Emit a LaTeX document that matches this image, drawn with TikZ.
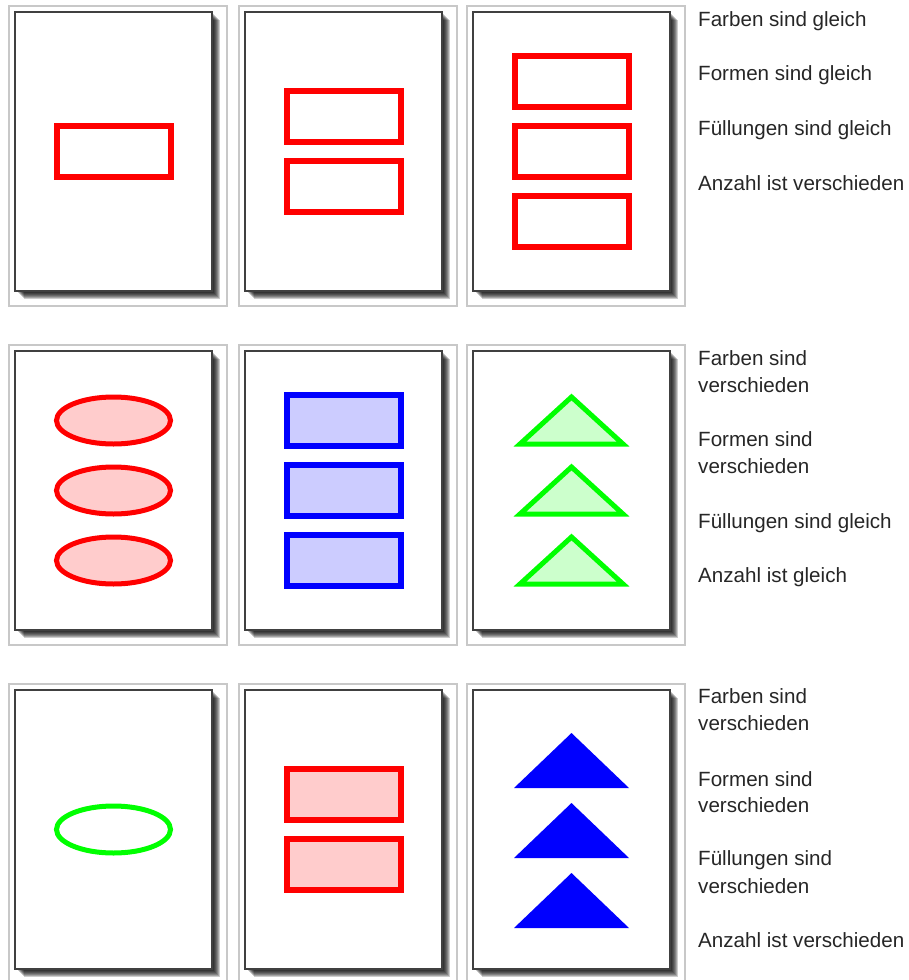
\documentclass[tikz,border=0pt]{standalone}
\usepackage{fontspec}
\setmainfont{Liberation Sans}
\definecolor{framegray}{HTML}{C8C8C8}
\definecolor{edgegray}{HTML}{404040}
\definecolor{pinkfill}{HTML}{FFCCCC}
\definecolor{bluefill}{HTML}{CCCCFF}
\definecolor{greenfill}{HTML}{CCFFCC}
\definecolor{pgreen}{HTML}{00FF00}
\definecolor{txt}{HTML}{262626}
\newcommand\cardbase{%
  \draw[framegray,line width=1.5pt] (-6,-6) rectangle (212,294);
  \foreach \k in {1,...,8}{\fill[black,opacity=0.2] (\k+1,\k) rectangle (197+\k,279+\k);}
  \fill[white] (0,0) rectangle (197,279);
  \draw[edgegray,line width=1.4pt] (0,0) rectangle (197,279);
}
\newcommand\rshape[2]{\draw[#2] (41.5,#1-25.5) rectangle (155.5,#1+25.5);}
\newcommand\eshape[2]{\draw[#2] (98.5,#1) ellipse [x radius=57, y radius=23.5];}
\newcommand\tshape[2]{\begin{scope}[shift={(98.5,#1)}]\draw[#2] (-51.5,23.5) -- (0,-23.5) -- (51.5,23.5) -- cycle;\end{scope}}
\newcommand\bigtshape[2]{\begin{scope}[shift={(98.5,#1)}]\fill[#2] (-57.5,27.5) -- (0,-27.5) -- (57.5,27.5) -- cycle;\end{scope}}
\begin{document}
\begin{tikzpicture}[x=1pt,y=-1pt,
  redrect/.style={red,line width=6pt},
  pinkrect/.style={red,fill=pinkfill,line width=6pt},
  bluerect/.style={blue,fill=bluefill,line width=6pt},
  redell/.style={red,fill=pinkfill,line width=5pt},
  greenell/.style={pgreen,line width=5pt},
  greentri/.style={pgreen,fill=greenfill,line width=5pt,line join=miter},
  bluetri/.style={blue},
  lbl/.style={anchor=base west,inner sep=0pt,text=txt,font=\fontsize{20.6}{24}\selectfont}]
\useasboundingbox (0,0) rectangle (908,980);
\fill[white] (0,0) rectangle (908,980);
% row 1
\begin{scope}[shift={(15,12)}]\cardbase \rshape{139.5}{redrect}\end{scope}
\begin{scope}[shift={(245,12)}]\cardbase \rshape{104.5}{redrect}\rshape{174.5}{redrect}\end{scope}
\begin{scope}[shift={(473,12)}]\cardbase \rshape{69.5}{redrect}\rshape{139.5}{redrect}\rshape{209.5}{redrect}\end{scope}
% row 2
\begin{scope}[shift={(15,351)}]\cardbase \eshape{69.5}{redell}\eshape{139.5}{redell}\eshape{209.5}{redell}\end{scope}
\begin{scope}[shift={(245,351)}]\cardbase \rshape{69.5}{bluerect}\rshape{139.5}{bluerect}\rshape{209.5}{bluerect}\end{scope}
\begin{scope}[shift={(473,351)}]\cardbase \tshape{69.5}{greentri}\tshape{139.5}{greentri}\tshape{209.5}{greentri}\end{scope}
% row 3
\begin{scope}[shift={(15,690)}]\cardbase \eshape{139.5}{greenell}\end{scope}
\begin{scope}[shift={(245,690)}]\cardbase \rshape{104.5}{pinkrect}\rshape{174.5}{pinkrect}\end{scope}
\begin{scope}[shift={(473,690)}]\cardbase \bigtshape{70.5}{bluetri}\bigtshape{140.5}{bluetri}\bigtshape{210.5}{bluetri}\end{scope}
% texts row 1
\node[lbl] (a1) at (698,26) {Farben sind gleich};
\node[lbl] (a2) at (698,80.5) {Formen sind gleich};
\node[lbl] (a3) at (698,135) {Füllungen sind gleich};
\node[lbl] (a4) at (698,190) {Anzahl ist verschieden};
% texts row 2
\node[lbl] (b1) at (698,365) {Farben sind};
\node[lbl] (b1b) at (698,392) {verschieden};
\node[lbl] (b2) at (698,446) {Formen sind};
\node[lbl] (b2b) at (698,473) {verschieden};
\node[lbl] (b3) at (698,528) {Füllungen sind gleich};
\node[lbl] (b4) at (698,582) {Anzahl ist gleich};
% texts row 3
\node[lbl] (c1) at (698,703) {Farben sind};
\node[lbl] (c1b) at (698,730) {verschieden};
\node[lbl] (c2) at (698,786) {Formen sind};
\node[lbl] (c2b) at (698,812) {verschieden};
\node[lbl] (c3) at (698,865) {Füllungen sind};
\node[lbl] (c3b) at (698,893) {verschieden};
\node[lbl] (c4) at (698,947) {Anzahl ist verschieden};
\end{tikzpicture}
\end{document}
